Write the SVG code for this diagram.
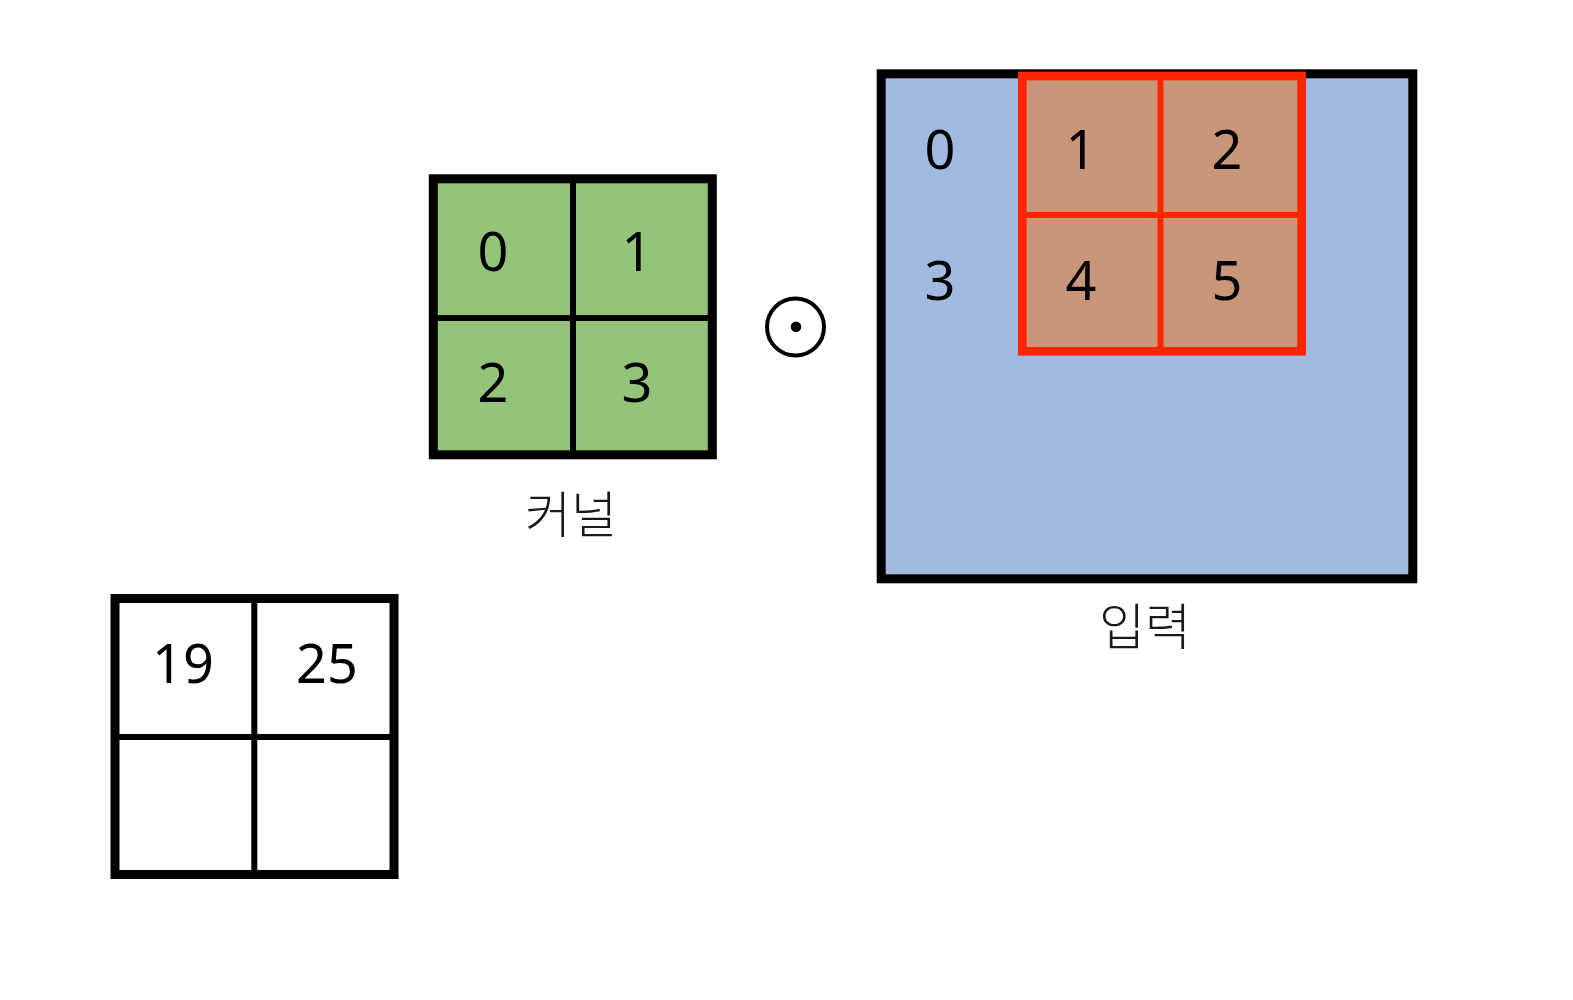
<svg xmlns="http://www.w3.org/2000/svg" width="1573" height="1000" viewBox="0 0 1573 1000">
<style>
.num{font-family:"Noto Sans","Open Sans","DejaVu Sans",sans-serif;font-size:54px;fill:#000;text-anchor:middle}
.lbl{font-family:"Noto Sans CJK KR","Noto Sans",sans-serif;font-size:50px;font-weight:300;fill:#1a1a1a;text-anchor:middle}
.frame{stroke:#000;stroke-width:9}
.div{stroke:#000;stroke-width:6}
.rdiv{stroke:#FF2600;stroke-width:6}
</style>
<rect width="1573" height="1000" fill="#fff"/>
<g id="output">
<rect x="115" y="598.5" width="279" height="276" fill="#fff" class="frame"/>
<line x1="254.3" y1="598.5" x2="254.3" y2="874.5" class="div"/>
<line x1="115" y1="737" x2="394" y2="737" class="div"/>
<text x="183" y="683" class="num">19</text>
<text x="327" y="683" class="num">25</text>
</g>
<g id="kernel">
<rect x="433.3" y="178.8" width="279" height="276" fill="#93C47A" class="frame"/>
<line x1="573" y1="178.8" x2="573" y2="454.8" class="div"/>
<line x1="433.3" y1="318" x2="712.3" y2="318" class="div"/>
<text x="493" y="271" class="num">0</text>
<text x="637" y="271" class="num">1</text>
<text x="493" y="402" class="num">2</text>
<text x="637" y="402" class="num">3</text>
<text x="571" y="533" class="lbl">커널</text>
</g>
<g id="operator">
<circle cx="795.5" cy="327" r="28.5" fill="none" stroke="#000" stroke-width="4"/>
<circle cx="796" cy="326.7" r="5.3" fill="#000"/>
</g>
<g id="input">
<rect x="881.2" y="73.8" width="531.6" height="505" fill="#A3BAE0" class="frame"/>
<text x="940" y="169" class="num">0</text>
<text x="940" y="300" class="num">3</text>
<text x="1145" y="645" class="lbl">입력</text>
</g>
<g id="window">
<rect x="1022.3" y="76" width="279.3" height="275.3" fill="#C8977A" stroke="#FF2600" stroke-width="8.7"/>
<line x1="1160.5" y1="76" x2="1160.5" y2="351.3" class="rdiv"/>
<line x1="1022.3" y1="215" x2="1301.6" y2="215" class="rdiv"/>
<text x="1081" y="169" class="num">1</text>
<text x="1227" y="169" class="num">2</text>
<text x="1081" y="300" class="num">4</text>
<text x="1227" y="300" class="num">5</text>
</g>
<g id="connectors"/>
</svg>
